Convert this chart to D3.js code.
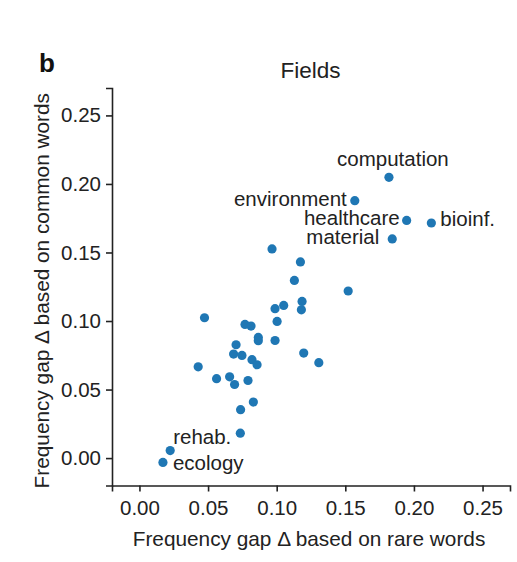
<!DOCTYPE html>
<html>
<head>
<meta charset="utf-8">
<script src="https://cdn.jsdelivr.net/npm/d3@7"></script>
<style>
  html, body { margin: 0; padding: 0; background: #fff; }
  svg { display: block; font-family: "Liberation Sans", Arial, Helvetica, sans-serif; }
</style>
</head>
<body>
<svg id="chart" width="517" height="562"></svg>
<script>
// ---- data ----
const fieldNames = [
  "computation", "environment", "healthcare", "bioinf.", "material",
  "rehab.", "ecology",
  "", "", "", "", "", "", "", "", "", "",
  "", "", "", "", "", "", "", "", "", "",
  "", "", "", "", "", "", "", "", "", ""
];
const rareGap = [
  0.1818, 0.1569, 0.1947, 0.2127, 0.1842,
  0.0224, 0.0171,
  0.0966, 0.1173, 0.1129, 0.1521, 0.1185, 0.1180, 0.1051, 0.0988, 0.0474, 0.1003,
  0.0769, 0.0813, 0.0866, 0.0866, 0.0988, 0.0704, 0.0686, 0.0747, 0.1197, 0.0820,
  0.0857, 0.1307, 0.0428, 0.0562, 0.0657, 0.0693, 0.0791, 0.0830, 0.0737, 0.0735
];
const commonGap = [
  0.2048, 0.1878, 0.1734, 0.1715, 0.1599,
  0.0055, -0.0032,
  0.1526, 0.1431, 0.1296, 0.1219, 0.1143, 0.1082, 0.1114, 0.1090, 0.1024, 0.0997,
  0.0975, 0.0963, 0.0880, 0.0856, 0.0858, 0.0827, 0.0759, 0.0749, 0.0766, 0.0718,
  0.0681, 0.0696, 0.0666, 0.0579, 0.0593, 0.0537, 0.0566, 0.0409, 0.0353, 0.0182
];
const tickValues = [0.00, 0.05, 0.10, 0.15, 0.20, 0.25];
const tickLabels = ["0.00", "0.05", "0.10", "0.15", "0.20", "0.25"];
const titleText = "Fields";
const panelLetter = "b";
const xTitle = "Frequency gap \u0394 based on rare words";
const yTitle = "Frequency gap \u0394 based on common words";

// ---- layout (label placement offsets in pixels, not data) ----
const labelLayout = {
  "computation": { dx: 4,   dy: -11, anchor: "middle" },
  "environment": { dx: -8,  dy: 5,   anchor: "end" },
  "healthcare":  { dx: -7,  dy: 4.5, anchor: "end" },
  "bioinf.":     { dx: 9,   dy: 3,   anchor: "start" },
  "material":    { dx: -13, dy: 5.5, anchor: "end" },
  "rehab.":      { dx: 3,   dy: -7,  anchor: "start" },
  "ecology":     { dx: 10,  dy: 8,   anchor: "start" }
};

const data = fieldNames.map((n, i) => ({ name: n, x: rareGap[i], y: commonGap[i] }));

const svg = d3.select("#chart");
const plotLeft = 112, plotRight = 510, plotTop = 88, plotBottom = 485.5;
const fontSize = 20.5;
const titleSize = 20.8;
const ink = "#222";

const x = d3.scaleLinear().domain([-0.02, 0.27]).range([plotLeft, plotRight]);
const y = d3.scaleLinear().domain([-0.02, 0.27]).range([plotBottom, plotTop]);

// axes
const xAxis = d3.axisBottom(x).tickValues(tickValues)
  .tickFormat((d, i) => tickLabels[i]).tickSizeOuter(0).tickSize(6).tickPadding(5);
const yAxis = d3.axisLeft(y).tickValues(tickValues)
  .tickFormat((d, i) => tickLabels[i]).tickSizeOuter(0).tickSize(6).tickPadding(5);

const gx = svg.append("g").attr("transform", `translate(0,${plotBottom})`).call(xAxis);
const gy = svg.append("g").attr("transform", `translate(${plotLeft},0)`).call(yAxis);

[gx, gy].forEach(g => {
  g.select(".domain").attr("stroke", ink).attr("stroke-width", 1.6);
  g.selectAll(".tick line").attr("stroke", ink).attr("stroke-width", 1.6);
  g.selectAll(".tick text").attr("fill", ink)
    .style("font-size", fontSize + "px")
    .style("font-family", "'Liberation Sans', Arial, sans-serif");
});
gx.selectAll(".tick text").attr("dy", "0.9em");

// points
svg.append("g").selectAll("circle").data(data).join("circle")
  .attr("cx", d => x(d.x)).attr("cy", d => y(d.y))
  .attr("r", 4.6).attr("fill", "#1f77b4");

// point labels
svg.append("g").selectAll("text").data(data.filter(d => d.name)).join("text")
  .attr("x", d => x(d.x) + labelLayout[d.name].dx)
  .attr("y", d => y(d.y) + labelLayout[d.name].dy)
  .attr("text-anchor", d => labelLayout[d.name].anchor)
  .attr("fill", ink).style("font-size", fontSize + "px")
  .text(d => d.name);

// title
svg.append("text").attr("x", 310.5).attr("y", 78).attr("text-anchor", "middle")
  .attr("fill", ink).style("font-size", "22.5px").text(titleText);

// panel letter
svg.append("text").attr("x", 39).attr("y", 72).attr("fill", "#111")
  .style("font-size", "26px").style("font-weight", "bold").text(panelLetter);

// axis titles
svg.append("text").attr("x", (plotLeft + plotRight) / 2 - 2).attr("y", 546)
  .attr("text-anchor", "middle").attr("fill", ink).style("font-size", titleSize + "px")
  .text(xTitle);
svg.append("text").attr("transform", `translate(49,${(plotTop + plotBottom) / 2 + 4}) rotate(-90)`)
  .attr("text-anchor", "middle").attr("fill", ink).style("font-size", titleSize + "px")
  .text(yTitle);
</script>
</body>
</html>
